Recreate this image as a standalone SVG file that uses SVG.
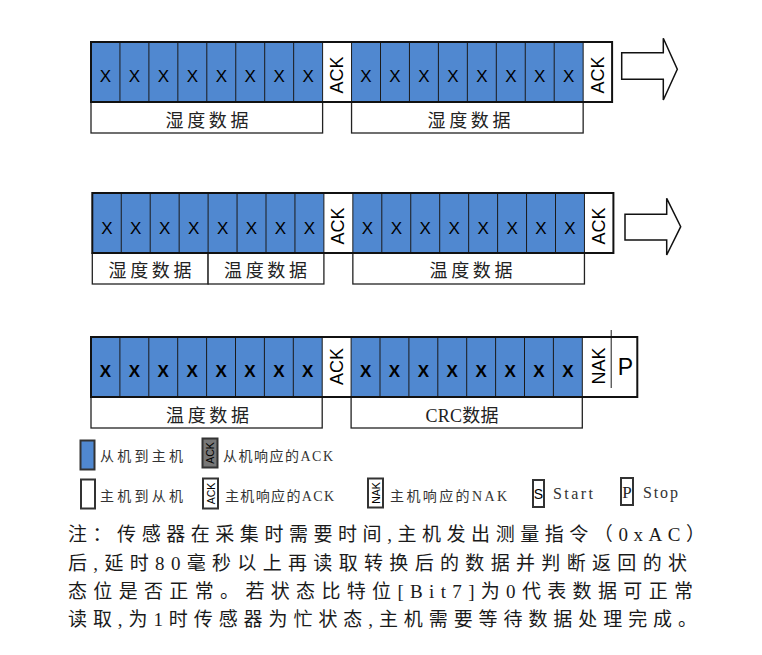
<svg xmlns="http://www.w3.org/2000/svg" width="762" height="655" viewBox="0 0 762 655">
<style>
.bg{fill:#ffffff}
.blue{fill:#5088d0;stroke:none}
.frame{fill:none;stroke:#111;stroke-width:2}
.sep{fill:none;stroke:#1a1a1a;stroke-width:1}
.lbl{fill:#fff;stroke:#222;stroke-width:1.3}
.x{font-family:"Liberation Sans",Arial,sans-serif;font-size:17px;fill:#000;text-anchor:middle}
.xb{font-weight:bold}
.ack{font-family:"Liberation Sans",Arial,sans-serif;font-size:18px;fill:#000;text-anchor:middle;dominant-baseline:central}
.cn{font-family:"Liberation Serif","Noto Sans CJK SC",serif;font-size:18px;fill:#222;text-anchor:middle}
.arrow{fill:#fff;stroke:#111;stroke-width:1.5;stroke-linejoin:miter}
.lg{font-family:"Liberation Serif","Noto Sans CJK SC",serif;font-size:14px;fill:#333}
.lgbox{stroke:#333;stroke-width:2}
.sm{font-family:"Liberation Sans",Arial,sans-serif;font-size:10.5px;fill:#000;text-anchor:middle;dominant-baseline:central}
.note{font-family:"Liberation Serif","Noto Sans CJK SC",serif;font-size:19px;fill:#1a1a1a}
</style>
<rect class="bg" x="0" y="0" width="762" height="655"/>

<g id="row1">
  <rect class="blue" x="91" y="42" width="231.6" height="60"/>
  <rect class="blue" x="351.55" y="42" width="231.6" height="60"/>
  <rect class="lbl" x="91" y="102" width="231.6" height="31"/>
  <rect class="lbl" x="351.55" y="102" width="231.6" height="31"/>
  <path class="sep" d="M119.95 42V102M148.9 42V102M177.85 42V102M206.8 42V102M235.75 42V102M264.7 42V102M293.65 42V102M322.6 42V102M351.55 42V102M380.5 42V102M409.45 42V102M438.4 42V102M467.35 42V102M496.3 42V102M525.25 42V102M554.2 42V102M583.15 42V102"/>
  <rect class="frame" x="91" y="42" width="521.1" height="60"/>
  <text class="x" x="105.5 134.4 163.4 192.3 221.3 250.2 279.2 308.1" y="82">XXXXXXXX</text>
  <text class="x" x="366.0 395.0 423.9 452.9 481.8 510.8 539.7 568.7" y="82">XXXXXXXX</text>
  <text class="ack" x="337" y="75" transform="rotate(-90 337 75)">ACK</text>
  <text class="ack" x="597.6" y="75" transform="rotate(-90 597.6 75)">ACK</text>
  <text class="cn" x="207" y="126.5" textLength="83" lengthAdjust="spacing">湿度数据</text>
  <text class="cn" x="469" y="126.5" textLength="83" lengthAdjust="spacing">湿度数据</text>
</g>

<g id="row2">
  <rect class="blue" x="92.3" y="193" width="231.6" height="60"/>
  <rect class="blue" x="352.85" y="193" width="231.6" height="60"/>
  <rect class="lbl" x="92.3" y="253" width="115.8" height="31"/>
  <rect class="lbl" x="208.1" y="253" width="115.8" height="31"/>
  <rect class="lbl" x="352.85" y="253" width="231.6" height="31"/>
  <path class="sep" d="M121.25 193V253M150.2 193V253M179.15 193V253M208.1 193V253M237.05 193V253M266 193V253M294.95 193V253M323.9 193V253M352.85 193V253M381.8 193V253M410.75 193V253M439.7 193V253M468.65 193V253M497.6 193V253M526.55 193V253M555.5 193V253M584.45 193V253"/>
  <rect class="frame" x="92.3" y="193" width="521.1" height="60"/>
  <text class="x" x="106.8 135.7 164.7 193.6 222.6 251.5 280.5 309.4" y="233.5">XXXXXXXX</text>
  <text class="x" x="367.3 396.3 425.2 454.2 483.1 512.1 541.0 570.0" y="233.5">XXXXXXXX</text>
  <text class="ack" x="338.4" y="226" transform="rotate(-90 338.4 226)">ACK</text>
  <text class="ack" x="598.9" y="226" transform="rotate(-90 598.9 226)">ACK</text>
  <text class="cn" x="150" y="277" textLength="83" lengthAdjust="spacing">湿度数据</text>
  <text class="cn" x="265.5" y="277" textLength="83" lengthAdjust="spacing">温度数据</text>
  <text class="cn" x="471" y="277" textLength="83" lengthAdjust="spacing">温度数据</text>
</g>

<g id="row3">
  <rect class="blue" x="91" y="337" width="231.2" height="60"/>
  <rect class="blue" x="351.1" y="337" width="231.2" height="60"/>
  <rect class="lbl" x="91" y="397" width="231.2" height="31"/>
  <rect class="lbl" x="351.1" y="397" width="231.2" height="31"/>
  <path class="sep" d="M119.9 337V397M148.8 337V397M177.7 337V397M206.6 337V397M235.5 337V397M264.4 337V397M293.3 337V397M322.2 337V397M351.1 337V397M380 337V397M408.9 337V397M437.8 337V397M466.7 337V397M495.6 337V397M524.5 337V397M553.4 337V397M582.3 337V397"/>
  <path class="sep" d="M611.2 330V388"/>
  <rect class="frame" x="91" y="337" width="546.3" height="60"/>
  <text class="x xb" x="105.45 134.35 163.25 192.15 221.05 249.95 278.85 307.75" y="377">XXXXXXXX</text>
  <text class="x xb" x="365.55 394.45 423.35 452.25 481.15 510.05 538.95 567.85" y="377">XXXXXXXX</text>
  <text class="ack" x="336.6" y="366.5" transform="rotate(-90 336.6 366.5)">ACK</text>
  <text class="ack" x="598.5" y="366" transform="rotate(-90 598.5 366)">NAK</text>
  <text class="x" x="625.5" y="375" style="font-size:23px">P</text>
  <text class="cn" x="207.5" y="421.5" textLength="83" lengthAdjust="spacing">温度数据</text>
  <text class="cn" x="462" y="421.5" textLength="73" lengthAdjust="spacing">CRC数据</text>
</g>

<g id="connectors">
  <polygon class="arrow" points="621.7,52.7 663.3,52.7 663.3,38.3 677.3,69.3 663.3,100 663.3,79.3 621.7,79.3"/>
  <polygon class="arrow" points="625,214.3 666.7,214.3 666.7,198.3 680.7,226.7 666.7,255 666.7,240 625,240"/>
</g>

<g id="legend">
  <rect class="lgbox" x="80.5" y="440.5" width="14" height="29" fill="#5088d0"/>
  <text class="lg" x="100" y="461" textLength="83" lengthAdjust="spacing">从机到主机</text>
  <rect class="lgbox" x="202.5" y="438.5" width="15" height="29" fill="#777"/>
  <text class="sm" x="210" y="453" transform="rotate(-90 210 453)">ACK</text>
  <text class="lg" x="223" y="461" textLength="110" lengthAdjust="spacing">从机响应的ACK</text>

  <rect class="lgbox" x="81" y="479.5" width="14" height="29" fill="#fff"/>
  <text class="lg" x="100" y="501" textLength="83" lengthAdjust="spacing">主机到从机</text>
  <rect class="lgbox" x="203" y="478.5" width="15" height="30" fill="#fff"/>
  <text class="sm" x="210.5" y="493.5" transform="rotate(-90 210.5 493.5)">ACK</text>
  <text class="lg" x="225" y="501" textLength="109" lengthAdjust="spacing">主机响应的ACK</text>
  <rect class="lgbox" x="368" y="478.5" width="15" height="29" fill="#fff"/>
  <text class="sm" x="375.5" y="493" transform="rotate(-90 375.5 493)">NAK</text>
  <text class="lg" x="390" y="501" textLength="117" lengthAdjust="spacing">主机响应的NAK</text>
  <rect class="lgbox" x="533" y="480" width="11" height="27" fill="#fff"/>
  <text x="538.5" y="499" style="font-family:'Liberation Sans',Arial,sans-serif;font-size:14px;fill:#000;text-anchor:middle">S</text>
  <text class="lg" x="553" y="499" textLength="40" lengthAdjust="spacing" style="font-size:16px">Start</text>
  <rect class="lgbox" x="621" y="478" width="12" height="27" fill="#fff"/>
  <text x="627" y="498" style="font-family:'Liberation Serif',serif;font-size:17px;fill:#222;text-anchor:middle">P</text>
  <text class="lg" x="643" y="498" textLength="35" lengthAdjust="spacing" style="font-size:16px">Stop</text>
</g>

<g id="note">
  <text class="note" x="68" y="541" textLength="637" lengthAdjust="spacing">注：传感器在采集时需要时间,主机发出测量指令（0xAC）</text>
  <text class="note" x="68" y="570" textLength="619" lengthAdjust="spacing">后,延时80毫秒以上再读取转换后的数据并判断返回的状</text>
  <text class="note" x="68" y="598" textLength="625" lengthAdjust="spacing">态位是否正常。若状态比特位[Bit7]为0代表数据可正常</text>
  <text class="note" x="68" y="626" textLength="629" lengthAdjust="spacing">读取,为1时传感器为忙状态,主机需要等待数据处理完成。</text>
</g>
</svg>
